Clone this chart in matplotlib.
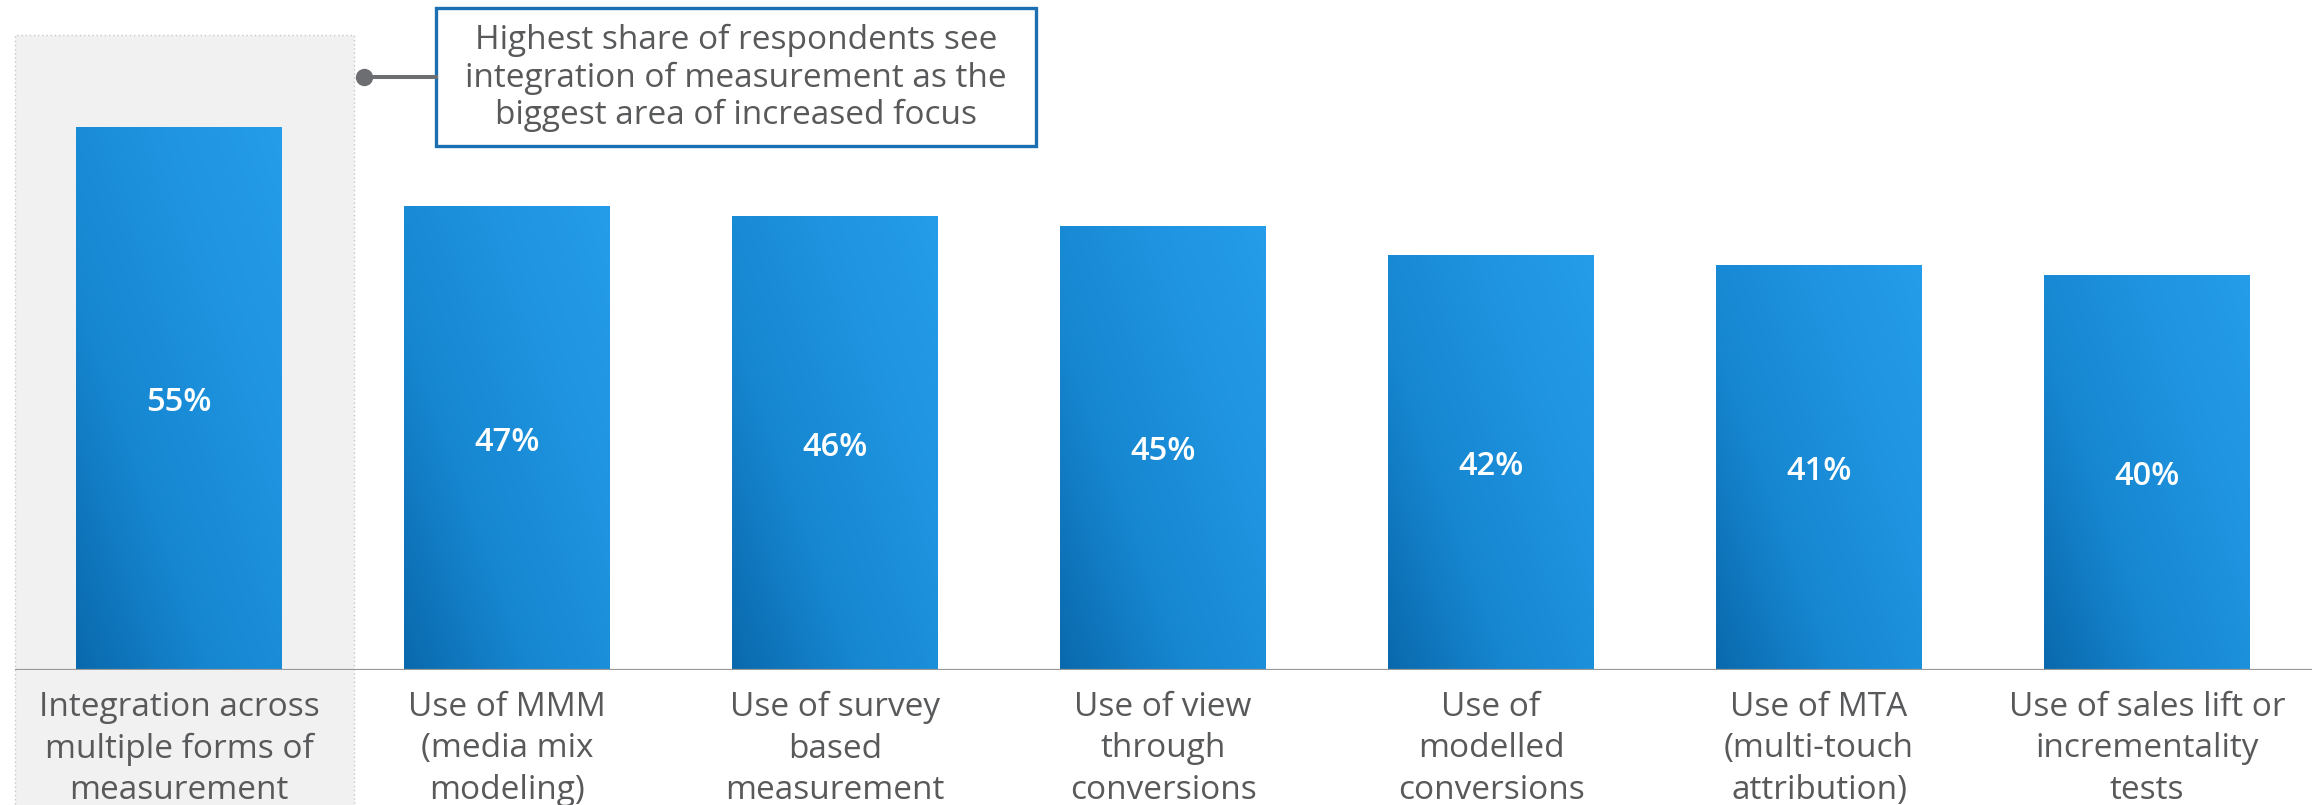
import numpy as np
import matplotlib.pyplot as plt
from matplotlib.colors import LinearSegmentedColormap
from matplotlib.patches import Rectangle
from matplotlib.lines import Line2D

categories = [
    "Integration across\nmultiple forms of\nmeasurement",
    "Use of MMM\n(media mix\nmodeling)",
    "Use of survey\nbased\nmeasurement",
    "Use of view\nthrough\nconversions",
    "Use of\nmodelled\nconversions",
    "Use of MTA\n(multi-touch\nattribution)",
    "Use of sales lift or\nincrementality\ntests",
]
values = [55, 47, 46, 45, 42, 41, 40]
value_labels = ["55%", "47%", "46%", "45%", "42%", "41%", "40%"]
callout = ("Highest share of respondents see\n"
           "integration of measurement as the\n"
           "biggest area of increased focus")

W, H = 2320, 805
plt.rcParams['font.family'] = ['Open Sans', 'DejaVu Sans']
text_gray = '#58595b'

fig = plt.figure(figsize=(W / 100, H / 100), dpi=100)
fig.patch.set_facecolor('white')
ax = fig.add_axes([15 / W, 135 / H, (2312 - 15) / W, 635 / H])
ax.patch.set_visible(False)
ymax = 64.3
xlo, xhi = -0.5, 6.503
bw = 0.628

# highlighted first column (runs down behind the label)
ax.add_patch(Rectangle((-0.5, -13.8), 1.034, ymax + 13.8, facecolor='#f1f1f1',
                       edgecolor='#c8c8c8', linestyle=(0, (1, 2)), lw=1,
                       clip_on=False, zorder=0))

x = np.arange(len(values))
bars = ax.bar(x, values, width=bw, color='none', edgecolor='none', zorder=2)

cmap = LinearSegmentedColormap.from_list('blu', ['#0a69ad', '#1686d0', '#1f93df', '#259de9'])
ang = np.deg2rad(20)
for b, v in zip(bars, values):
    pw, ph = 206, v * 9.875
    gx, gy = np.meshgrid(np.linspace(0, 1, 120), np.linspace(0, 1, 200))
    t = (gx * pw * np.cos(ang) + gy * ph * np.sin(ang)) / (pw * np.cos(ang) + ph * np.sin(ang))
    im = ax.imshow(t, cmap=cmap, origin='lower', aspect='auto', vmin=0, vmax=1,
                   extent=[b.get_x(), b.get_x() + bw, 0, v], zorder=2)
    im.set_clip_path(b)

for i, (v, lab) in enumerate(zip(values, value_labels)):
    ax.annotate(lab, xy=(i, v / 2), xytext=(0, -3), textcoords='offset points',
                ha='center', va='center', color='white',
                fontsize=23.5, fontweight='semibold', zorder=3)

for i, c in enumerate(categories):
    ax.annotate(c, xy=(i, 0), xytext=(0, -15), textcoords='offset points',
                ha='center', va='top', color=text_gray, fontsize=24,
                linespacing=1.34, annotation_clip=False)

ax.axhline(0, color='#999999', lw=1.6, zorder=4)
ax.set_xlim(xlo, xhi)
ax.set_ylim(0, ymax)
ax.axis('off')

# callout box with connector
fig.add_artist(Rectangle((436 / W, (H - 146) / H), 600 / W, 138 / H,
                         transform=fig.transFigure, facecolor='white',
                         edgecolor='#1c6fb0', lw=2.4, zorder=5))
fig.add_artist(Line2D([364 / W, 436 / W], [(H - 77) / H] * 2, transform=fig.transFigure,
                      color='#6d6e71', lw=2.9, zorder=5))
fig.add_artist(Line2D([364 / W], [(H - 77) / H], transform=fig.transFigure, marker='o',
                      markersize=11.5, color='#6d6e71', zorder=6))
fig.text(736 / W, (H - 78) / H, callout, ha='center', va='center', color=text_gray,
         fontsize=24, linespacing=1.16, zorder=7)

fig.savefig('out.png', dpi=100, facecolor='white')
